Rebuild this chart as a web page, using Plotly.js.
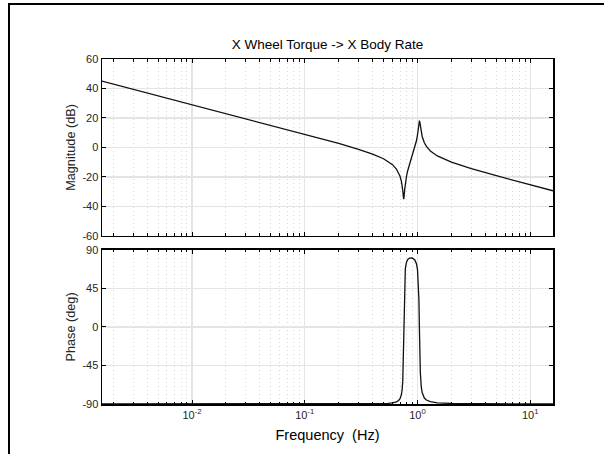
<!DOCTYPE html>
<html>
<head>
<meta charset="utf-8">
<script src="https://cdn.plot.ly/plotly-3.0.1.min.js"></script>
<style>
  html, body { margin: 0; padding: 0; background: #fff; }
  #plot { width: 604px; height: 454px; }
  #frame { position: absolute; left: 8px; top: 3px; width: 700px; height: 600px;
           border-left: 2px solid #000; border-top: 2px solid #000; pointer-events: none; }
</style>
</head>
<body>
<div id="plot"></div>
<div id="frame"></div>
<script>
// Frequency (Hz)
const freqHz = [0.00159, 0.01, 0.1, 0.2, 0.3, 0.4, 0.5, 0.55, 0.6, 0.65, 0.68, 0.70, 0.72, 0.73, 0.74, 0.75, 0.755, 0.76, 0.77, 0.78, 0.80, 0.82, 0.85, 0.90, 0.95, 0.98, 1.00, 1.02, 1.03, 1.04, 1.05, 1.06, 1.08, 1.10, 1.15, 1.2, 1.3, 1.5, 2, 3, 5, 10, 15.9];
// Magnitude (dB)
const magDb = [45.0, 29.03, 8.96, 2.71, -1.25, -4.48, -7.68, -9.49, -11.69, -14.64, -17.20, -19.59, -23.07, -25.61, -29.14, -33.84, -35.02, -33.59, -28.51, -24.58, -19.31, -15.63, -11.39, -5.59, 0.31, 4.67, 8.45, 13.55, 16.52, 18.22, 16.92, 14.40, 10.24, 7.43, 3.19, 0.67, -2.40, -5.77, -10.02, -14.40, -19.20, -25.36, -29.42];
// Phase (deg)
const phaseDeg = [-90, -90, -89.99, -89.98, -89.94, -89.83, -89.56, -89.27, -88.72, -87.50, -85.86, -83.70, -79.01, -73.98, -63.31, -33.26, -2.64, 27.83, 57.54, 68.09, 75.83, 78.71, 80.39, 80.47, 77.84, 73.41, 66.83, 50.22, 30.76, -1.97, -34.46, -53.63, -70.08, -76.70, -83.01, -85.38, -87.31, -88.57, -89.34, -89.66, -89.83, -89.91, -89.95];

const xTickVals = [0.01, 0.1, 1, 10];
const xTickText = ['10<sup>-2</sup>', '10<sup>-1</sup>', '10<sup>0</sup>', '10<sup>1</sup>'];
const xMinorVals = [0.002,0.003,0.004,0.005,0.006,0.007,0.008,0.009,
                    0.02,0.03,0.04,0.05,0.06,0.07,0.08,0.09,
                    0.2,0.3,0.4,0.5,0.6,0.7,0.8,0.9,
                    2,3,4,5,6,7,8,9];
const magTickVals = [-60, -40, -20, 0, 20, 40, 60];
const magTickText = ['-60', '-40', '-20', '0', '20', '40', '60'];
const phaseTickVals = [-90, -45, 0, 45, 90];
const phaseTickText = ['-90', '-45', '0', '45', '90'];

const FONT = '"Liberation Sans", Arial, Helvetica, sans-serif';

function xAxis(anchor, labels) {
  return {
    type: 'log', range: [-2.7982, 1.2018], anchor: anchor,
    tickmode: 'array', tickvals: xTickVals, ticktext: xTickText,
    showticklabels: labels,
    ticks: 'inside', ticklen: 4, tickwidth: 1, tickcolor: '#000',
    mirror: 'allticks', showline: true, linecolor: '#000', linewidth: 1.5,
    showgrid: true, gridcolor: '#e4e4e4', gridwidth: 1.2, zeroline: false,
    tickfont: { family: FONT, size: 11, color: '#262626' },
    minor: { tickmode: 'array', tickvals: xMinorVals, ticks: 'inside', ticklen: 2.5,
             tickcolor: '#000', showgrid: true, gridcolor: '#d6d6d6', griddash: '1px,3px', gridwidth: 1 }
  };
}
function yAxis(anchor, domain, range, tv, tt, title) {
  return {
    anchor: anchor, domain: domain, range: range,
    tickmode: 'array', tickvals: tv, ticktext: tt,
    ticks: 'inside', ticklen: 4, tickwidth: 1, tickcolor: '#000',
    mirror: 'allticks', showline: true, linecolor: '#000', linewidth: 1.5,
    showgrid: true, gridcolor: '#e4e4e4', gridwidth: 1.2, zeroline: false,
    tickfont: { family: FONT, size: 11, color: '#262626' },
    title: { text: title, standoff: 4, font: { family: FONT, size: 12.7, color: '#262626' } }
  };
}

const traces = [
  { x: freqHz, y: magDb, xaxis: 'x', yaxis: 'y', type: 'scatter', mode: 'lines',
    line: { color: '#111', width: 1.3 }, showlegend: false, hoverinfo: 'skip' },
  { x: freqHz, y: phaseDeg, xaxis: 'x2', yaxis: 'y2', type: 'scatter', mode: 'lines',
    line: { color: '#111', width: 1.3 }, showlegend: false, hoverinfo: 'skip' }
];

const xa2 = xAxis('y2', true);
xa2.matches = 'x';
xa2.title = { text: 'Frequency  (Hz)', standoff: 10, font: { family: FONT, size: 14.5, color: '#000' } };

const layout = {
  width: 604, height: 454,
  margin: { l: 102, r: 51, t: 59, b: 50, pad: 0 },
  paper_bgcolor: '#fff', plot_bgcolor: '#fff',
  showlegend: false,
  title: { text: 'X Wheel Torque -> X Body Rate', xref: 'paper', x: 0.5, xanchor: 'center',
           yref: 'container', y: 1 - 44 / 454, yanchor: 'middle',
           font: { family: FONT, size: 13.5, color: '#000' } },
  xaxis: xAxis('y', false),
  xaxis2: xa2,
  yaxis: yAxis('x', [0.4874, 1], [-60, 60], magTickVals, magTickText, 'Magnitude (dB)'),
  yaxis2: yAxis('x2', [0, 0.4469], [-90, 90], phaseTickVals, phaseTickText, 'Phase (deg)')
};

Plotly.newPlot('plot', traces, layout, { staticPlot: true, displayModeBar: false });
</script>
</body>
</html>
